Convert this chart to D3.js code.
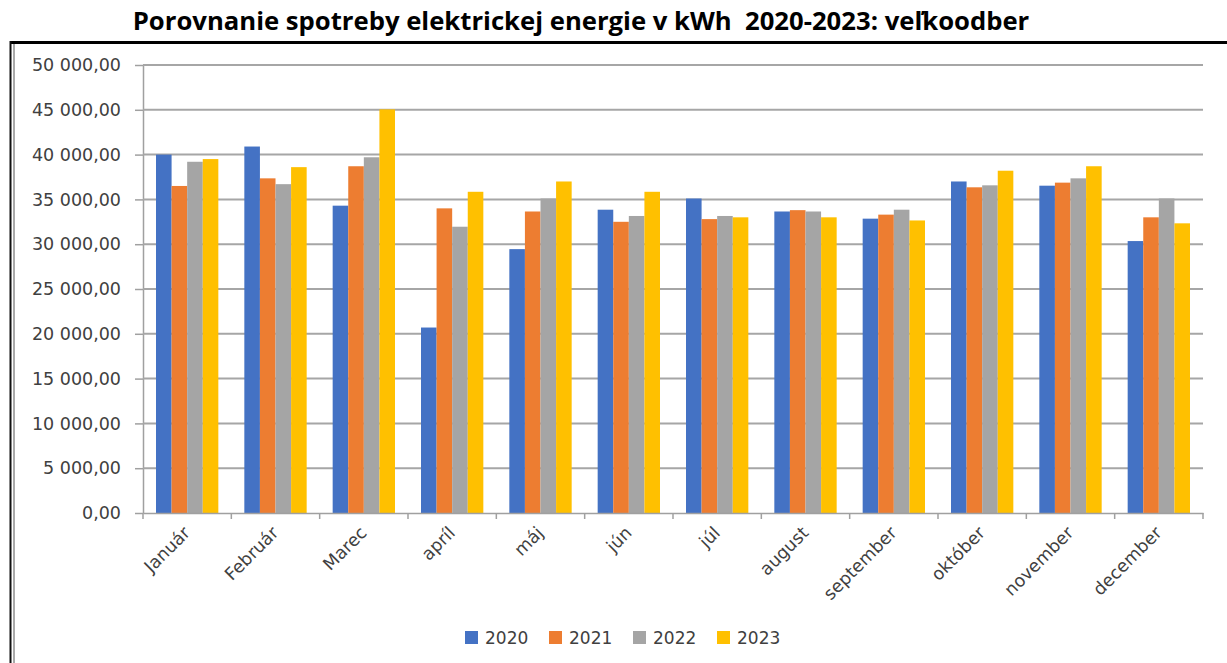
<!DOCTYPE html>
<html>
<head>
<meta charset="utf-8">
<script src="https://cdn.jsdelivr.net/npm/d3@7"></script>
<style>
  body { margin: 0; background: #fff; }
  text { font-family: "DejaVu Sans", Verdana, sans-serif; }
</style>
</head>
<body>
<div id="chart"></div>
<script>
// data
const months = ["Január", "Február", "Marec", "apríl", "máj", "jún", "júl",
  "august", "september", "október", "november", "december"];
const years = ["2020", "2021", "2022", "2023"];
const v2020 = [40000, 40900, 34300, 20700, 29450, 33850, 35100, 33650, 32850, 37000, 36530, 30350];
const v2021 = [36500, 37350, 38700, 34000, 33650, 32500, 32800, 33800, 33300, 36350, 36870, 33000];
const v2022 = [39200, 36700, 39700, 31950, 35100, 33150, 33150, 33650, 33850, 36570, 37350, 35100];
const v2023 = [39500, 38600, 45050, 35850, 37000, 35850, 33000, 33000, 32650, 38200, 38700, 32330];
const yTicks = [0, 5000, 10000, 15000, 20000, 25000, 30000, 35000, 40000, 45000, 50000];
const colors = ["#4472C4", "#ED7D31", "#A5A5A5", "#FFC000"];

const series = [v2020, v2021, v2022, v2023];
const W = 1227, H = 663;

const svg = d3.select("#chart").append("svg")
  .attr("width", W).attr("height", H);

// title
const title = svg.append("text")
  .attr("x", 581).attr("y", 30)
  .attr("text-anchor", "middle")
  .style("font-family", "'Open Sans', sans-serif")
  .style("font-weight", "700")
  .style("font-size", "20px")
  .attr("fill", "#000")
  .text("Porovnanie spotreby elektrickej energie v kWh\u00a0\u00a02020-2023: veľkoodber");
const tw = title.node().getComputedTextLength();
title.style("font-size", (20 * 897 / tw) + "px");

// frame
svg.append("line").attr("x1", 10).attr("x2", W).attr("y1", 42.5).attr("y2", 42.5)
  .attr("stroke", "#000").attr("stroke-width", 3);
svg.append("line").attr("x1", 10.5).attr("x2", 10.5).attr("y1", 41).attr("y2", H)
  .attr("stroke", "#111").attr("stroke-width", 2);
svg.append("line").attr("x1", 14).attr("x2", 14).attr("y1", 44).attr("y2", H)
  .attr("stroke", "#555").attr("stroke-width", 1);

const x = d3.scaleBand().domain(months).range([143, 1203]);
const xi = d3.scaleBand().domain(years).range([13, x.bandwidth() - 13]);
const y = d3.scaleLinear().domain([0, 50000]).range([513, 65]);

const loc = d3.formatLocale({ decimal: ",", thousands: "\u00a0", grouping: [3], currency: ["", ""] });
const fmt = loc.format(",.2f");

// y axis with gridlines
const gY = svg.append("g").attr("transform", "translate(143,0)")
  .call(d3.axisLeft(y).tickValues(yTicks).tickFormat(fmt).tickSizeInner(8).tickSizeOuter(0).tickPadding(14));
gY.select(".domain").attr("stroke", "#a0a0a0").attr("stroke-width", 1.5);
gY.selectAll(".tick line").attr("stroke", "#a0a0a0").attr("stroke-width", 1.5);
gY.selectAll(".tick text").attr("fill", "#404040").style("font-size", "17.5px");

svg.append("g").selectAll("line").data(yTicks.filter(d => d > 0)).join("line")
  .attr("x1", 143).attr("x2", 1203)
  .attr("y1", d => y(d)).attr("y2", d => y(d))
  .attr("stroke", "#a6a6a6").attr("stroke-width", 2);

// bars
const groups = svg.append("g").selectAll("g").data(months).join("g")
  .attr("transform", d => "translate(" + x(d) + ",0)");
groups.selectAll("rect")
  .data((m, i) => years.map((yr, j) => ({ yr: yr, v: series[j][i], c: colors[j] })))
  .join("rect")
  .attr("x", d => xi(d.yr))
  .attr("width", xi.bandwidth())
  .attr("y", d => y(d.v))
  .attr("height", d => y(0) - y(d.v))
  .attr("fill", d => d.c);

// x axis
const gX = svg.append("g").attr("transform", "translate(0,513)")
  .call(d3.axisBottom(x).tickSize(0).tickFormat(""));
gX.select(".domain").attr("stroke", "#a0a0a0").attr("stroke-width", 1.5);
svg.append("g").selectAll("line").data(months.concat(["end"])).join("line")
  .attr("x1", (d, i) => 143 + i * x.step()).attr("x2", (d, i) => 143 + i * x.step())
  .attr("y1", 513).attr("y2", 519)
  .attr("stroke", "#a0a0a0").attr("stroke-width", 1.5);

svg.append("g").selectAll("text").data(months).join("text")
  .attr("transform", d => "translate(" + (x(d) + x.bandwidth() / 2 + 4) + ",534) rotate(-45)")
  .attr("text-anchor", "end")
  .attr("fill", "#404040")
  .style("font-size", "17.5px")
  .text(d => d);

// legend
const leg = svg.append("g").selectAll("g").data(years).join("g")
  .attr("transform", (d, i) => "translate(" + (465 + i * 84) + ",631)");
leg.append("rect").attr("width", 13).attr("height", 13).attr("fill", (d, i) => colors[i]);
leg.append("text").attr("x", 20).attr("y", 12.5)
  .attr("fill", "#404040").style("font-size", "17px").text(d => d);
</script>
</body>
</html>
